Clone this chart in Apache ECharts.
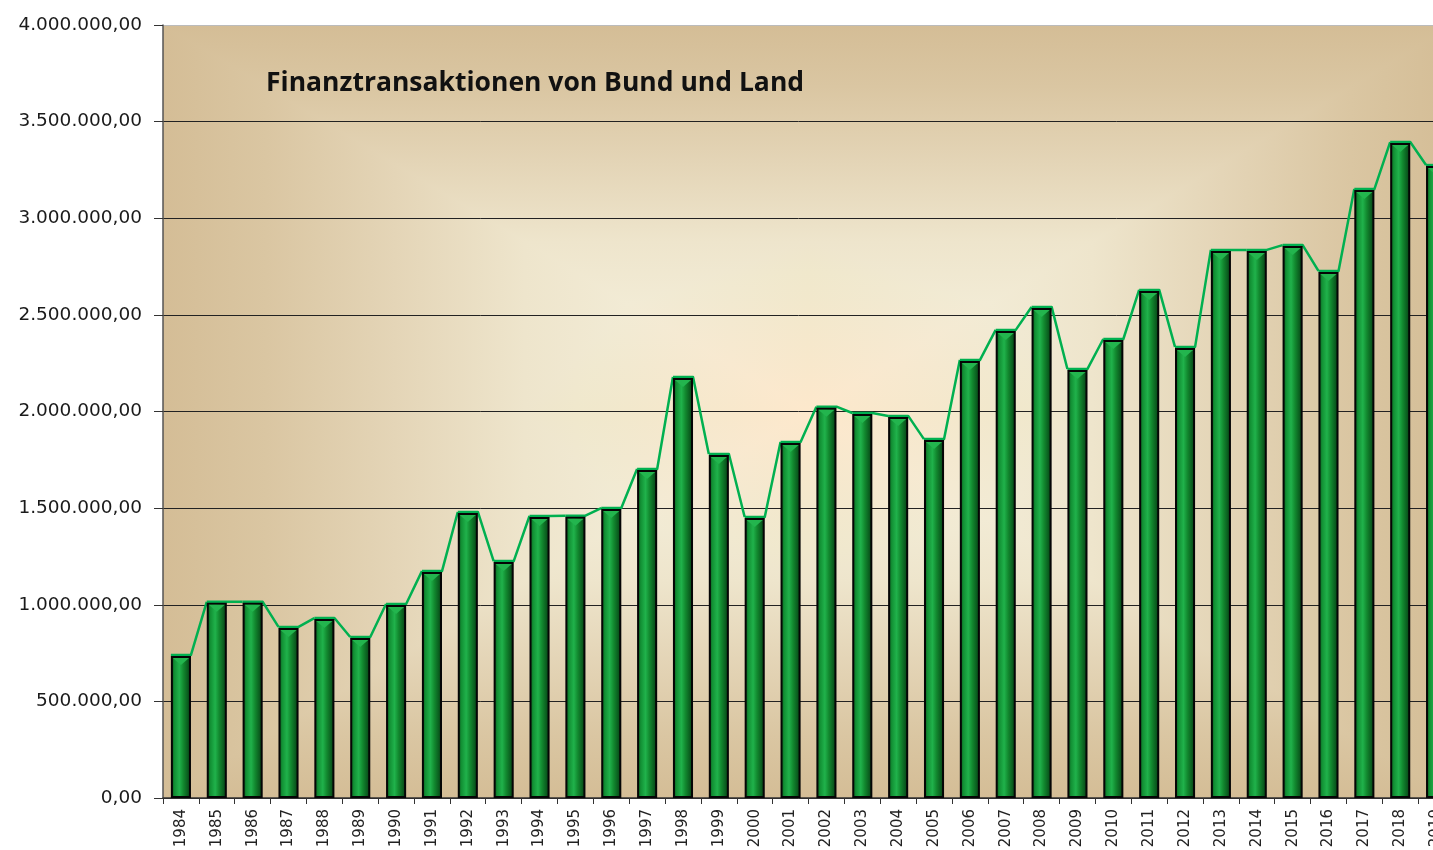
<!DOCTYPE html>
<html>
<head>
<meta charset="utf-8">
<script src="https://cdn.jsdelivr.net/npm/echarts@6/dist/echarts.min.js"></script>
<style>
  html, body { margin: 0; padding: 0; background: #fff; overflow: hidden; }
  #wrap { position: relative; width: 1433px; height: 850px; }
  /* Excel-artiger rechteckiger Verlauf hinter der Zeichenfläche */
  #plot-bg {
    position: absolute;
    left: 163px; top: 25px; width: 1291px; height: 773px;
    background-image:
      linear-gradient(to right, #d4bd96 0%, #dac6a2 8%, #e4d5b7 18%, #eee5cc 28%, #f2ebd5 36%, #f8e9d0 44%, #fde8cc 50%, #f8e9d0 56%, #f2ebd5 64%, #eee5cc 72%, #e4d5b7 82%, #dac6a2 92%, #d4bd96 100%),
      linear-gradient(to bottom, #d4bd96 0%, #dac6a2 8%, #e4d5b7 18%, #eee5cc 28%, #f2ebd5 36%, #f8e9d0 44%, #fde8cc 50%, #f8e9d0 56%, #f2ebd5 64%, #eee5cc 72%, #e4d5b7 82%, #dac6a2 92%, #d4bd96 100%);
    background-blend-mode: darken;
  }
  #chart { position: absolute; left: 0; top: 0; width: 1433px; height: 850px; }
</style>
</head>
<body>
<div id="wrap">
  <div id="plot-bg"></div>
  <div id="chart"></div>
</div>
<script>
// Jahre (x-Achse)
const years = ['1984', '1985', '1986', '1987', '1988', '1989', '1990', '1991', '1992', '1993',
  '1994', '1995', '1996', '1997', '1998', '1999', '2000', '2001', '2002', '2003',
  '2004', '2005', '2006', '2007', '2008', '2009', '2010', '2011', '2012', '2013',
  '2014', '2015', '2016', '2017', '2018', '2019']

// Finanztransaktionen
const values = [735000, 1010000, 1010000, 880000, 926000, 828000, 999000, 1169000, 1475000, 1221000,
  1454000, 1456000, 1495000, 1697000, 2173000, 1775000, 1449000, 1837000, 2020000, 1987000,
  1972000, 1852000, 2261000, 2417000, 2536000, 2215000, 2370000, 2624000, 2329000, 2831000,
  2831000, 2856000, 2722000, 3146000, 3389000, 3270000]

const yTicks = { min: 0, max: 4000000, interval: 500000 }
const BAR_RATIO = 0.56

// Zahlen im deutschen Format: 1.500.000,00
function fmtDe (v) {
  let s = Math.round(v).toString().replace(/\B(?=(\d{3})+(?!\d))/g, '.')
  return s + ',00'
}

// Daten für die Verbindungslinie: [index, wert, nächster wert]
const lineData = values.map((v, i) => [i, v, i < values.length - 1 ? values[i + 1] : null])

let myChart = echarts.init(document.getElementById('chart'))
let option = {
  animation: false,
  backgroundColor: 'transparent',
  title: {
    text: 'Finanztransaktionen von Bund und Land',
    left: 261,
    top: 65,
    textStyle: {
      fontFamily: 'Open Sans',
      fontWeight: 'bold',
      fontSize: 26.5,
      color: '#111'
    }
  },
  grid: {
    left: 163,
    top: 25,
    width: 1291,
    height: 773,
    outerBoundsMode: 'none',
    show: false
  },
  xAxis: {
    type: 'category',
    data: years,
    boundaryGap: true,
    axisLine: { lineStyle: { color: '#333', width: 1.5 } },
    axisTick: { show: true, length: 6, lineStyle: { color: '#333' } },
    axisLabel: {
      rotate: 90,
      interval: 0,
      margin: 11,
      fontFamily: 'DejaVu Sans',
      fontSize: 15,
      color: '#222'
    }
  },
  yAxis: {
    type: 'value',
    min: yTicks.min,
    max: yTicks.max,
    interval: yTicks.interval,
    axisLine: { show: true, lineStyle: { color: '#555', width: 1.5 } },
    axisTick: { show: true, inside: false, length: 9, lineStyle: { color: '#333' } },
    axisLabel: {
      margin: 21,
      fontFamily: 'DejaVu Sans',
      fontSize: 18.5,
      color: '#1a1a1a',
      formatter: fmtDe
    },
    splitLine: {
      show: true,
      lineStyle: {
        color: ['#222', '#222', '#222', '#222', '#222', '#222', '#222', '#222', '#bbb'],
        width: 1
      }
    }
  },
  series: [
    {
      // grüne Verbindungslinie über die Balkenecken
      type: 'custom',
      z: 1,
      data: lineData,
      renderItem (params, api) {
        let i = api.value(0)
        let band = api.size([1, 0])[0]
        let half = band * BAR_RATIO / 2
        let p = api.coord([i, api.value(1)])
        let pts = [[p[0] - half, p[1] - 1], [p[0] + half, p[1] - 1]]
        let next = lineData[i][2]
        if (next !== null) {
          let q = api.coord([i + 1, next])
          pts.push([q[0] - half, q[1] - 1])
        }
        return {
          type: 'polyline',
          shape: { points: pts },
          style: { stroke: '#00b050', lineWidth: 2.5, fill: null, lineJoin: 'round' }
        }
      }
    },
    {
      type: 'bar',
      z: 2,
      data: values,
      barWidth: (BAR_RATIO * 100) + '%',
      itemStyle: {
        borderColor: '#050505',
        borderWidth: 2,
        color: new echarts.graphic.LinearGradient(0, 0, 1, 0, [
          { offset: 0, color: '#0b4a1a' },
          { offset: 0.18, color: '#129034' },
          { offset: 0.42, color: '#20b24b' },
          { offset: 0.62, color: '#12892f' },
          { offset: 0.85, color: '#0a5a1e' },
          { offset: 1, color: '#053410' }
        ])
      }
    },
    {
      // heller Keil oben auf jedem Balken
      type: 'custom',
      z: 3,
      data: lineData,
      renderItem (params, api) {
        let band = api.size([1, 0])[0]
        let half = band * BAR_RATIO / 2 - 2
        let p = api.coord([api.value(0), api.value(1)])
        let top = p[1] + 2
        return {
          type: 'polygon',
          shape: { points: [[p[0] - half, top], [p[0] + half, top], [p[0], top + 7]] },
          style: { fill: '#23b54e' }
        }
      }
    }
  ]
}
myChart.setOption(option)
window.onresize = function () {
  myChart.resize()
}
</script>
</body>
</html>
